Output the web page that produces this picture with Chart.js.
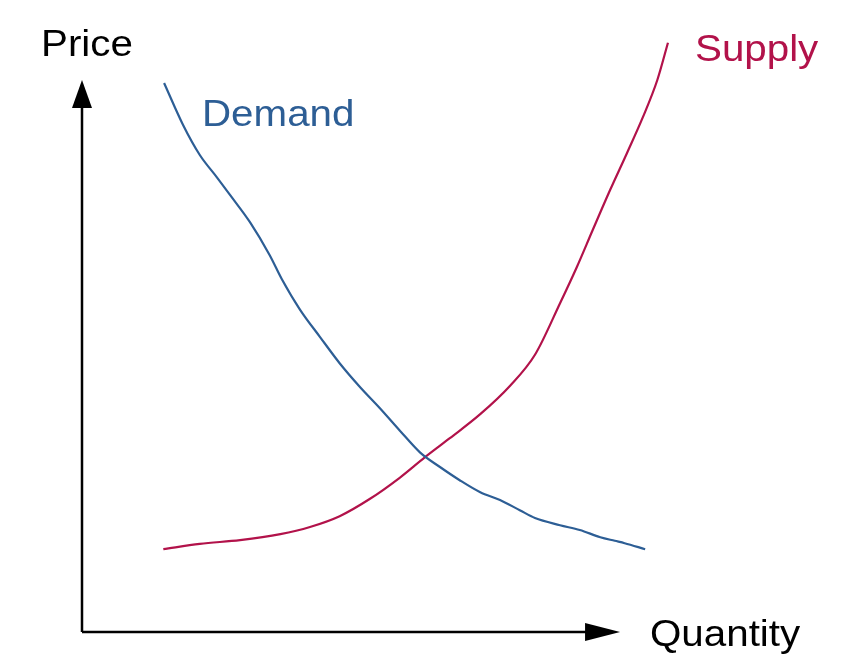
<!DOCTYPE html>
<html>
<head>
<meta charset="utf-8">
<script src="https://cdn.jsdelivr.net/npm/chart.js@4/dist/chart.umd.min.js"></script>
<style>
html,body{margin:0;padding:0;background:#fff;}
#wrap{width:865px;height:669px;}
</style>
</head>
<body>
<div id="wrap"><canvas id="c" width="865" height="669"></canvas></div>
<script>
// Demand curve (quantity, price) in abstract units 0..100
const demandQ = [10.8,13.3,15.5,17.8,19.5,22.1,24.7,26.3,28.7,31.3,33.9,36.6,39.2,41.8,44.5,47.1,49.7,52.4,55.0,57.6,59.6,62.9,65.5,68.2,70.1,71.4,74.1];
const demandP = [91.5,84.5,79.5,75.7,72.8,68.3,62.8,58.8,53.7,49.2,44.8,40.8,37.3,33.6,29.9,27.5,25.3,23.3,22.0,20.3,19.0,17.8,17.0,15.8,15.2,14.8,13.8];
// Supply curve
const supplyQ = [10.7,15.5,20.8,26.1,30.0,33.9,37.9,41.8,45.1,48.4,52.4,56.3,59.6,62.9,65.1,67.2,69.5,71.7,73.8,75.7,77.1];
const supplyP = [13.8,14.7,15.3,16.3,17.5,19.3,22.2,25.7,29.1,32.3,36.3,41.0,46.2,54.8,60.8,67.0,73.7,79.8,85.8,92.0,98.2];
// Axis extents (arrow tips)
const axisQEnd = 70.8;
const axisPEnd = 92.0;
const labels = {price:"Price", quantity:"Quantity", demand:"Demand", supply:"Supply"};

const toPts = (xs, ys) => xs.map((x, i) => ({x, y: ys[i]}));

const BLUE = '#2d5e95';
const RED = '#b2124a';

const axesPlugin = {
  id: 'axesArrows',
  afterDatasetsDraw(chart) {
    const {ctx, scales:{x, y}} = chart;
    const x0 = x.getPixelForValue(0), y0 = y.getPixelForValue(0);
    const xe = x.getPixelForValue(axisQEnd), ye = y.getPixelForValue(axisPEnd);
    ctx.save();
    ctx.strokeStyle = '#000'; ctx.fillStyle = '#000'; ctx.lineWidth = 2.5;
    ctx.beginPath();
    ctx.moveTo(x0, y0); ctx.lineTo(x0, ye + 20);
    ctx.moveTo(x0, y0); ctx.lineTo(xe - 25, y0);
    ctx.stroke();
    ctx.beginPath();
    ctx.moveTo(x0, ye); ctx.lineTo(x0 - 10, ye + 28); ctx.lineTo(x0 + 10, ye + 28); ctx.closePath(); ctx.fill();
    ctx.beginPath();
    ctx.moveTo(xe, y0); ctx.lineTo(xe - 35, y0 - 9); ctx.lineTo(xe - 35, y0 + 9); ctx.closePath(); ctx.fill();
    const txt = (s, px, py, col) => {
      ctx.save();
      ctx.translate(px, py); ctx.scale(1.12, 1);
      ctx.fillStyle = col; ctx.font = '36px "Liberation Sans", Arial, sans-serif';
      ctx.textBaseline = 'alphabetic'; ctx.textAlign = 'left';
      ctx.fillText(s, 0, 0);
      ctx.restore();
    };
    txt(labels.price, 41, 56, '#000');
    txt(labels.quantity, 650, 646, '#000');
    txt(labels.demand, 202, 126, BLUE);
    txt(labels.supply, 695, 61, RED);
    ctx.restore();
  }
};

new Chart(document.getElementById('c'), {
  type: 'line',
  data: {
    datasets: [
      {label: 'Demand', data: toPts(demandQ, demandP), borderColor: BLUE, borderWidth: 2.2, pointRadius: 0, cubicInterpolationMode: 'monotone', fill: false},
      {label: 'Supply', data: toPts(supplyQ, supplyP), borderColor: RED, borderWidth: 2.2, pointRadius: 0, cubicInterpolationMode: 'monotone', fill: false}
    ]
  },
  options: {
    responsive: false,
    animation: false,
    devicePixelRatio: 1,
    layout: {padding: {left: 82, right: 23, top: 32, bottom: 37}},
    plugins: {legend: {display: false}, tooltip: {enabled: false}},
    scales: {
      x: {type: 'linear', min: 0, max: 100, display: false},
      y: {type: 'linear', min: 0, max: 100, display: false}
    }
  },
  plugins: [axesPlugin]
});
</script>
</body>
</html>
